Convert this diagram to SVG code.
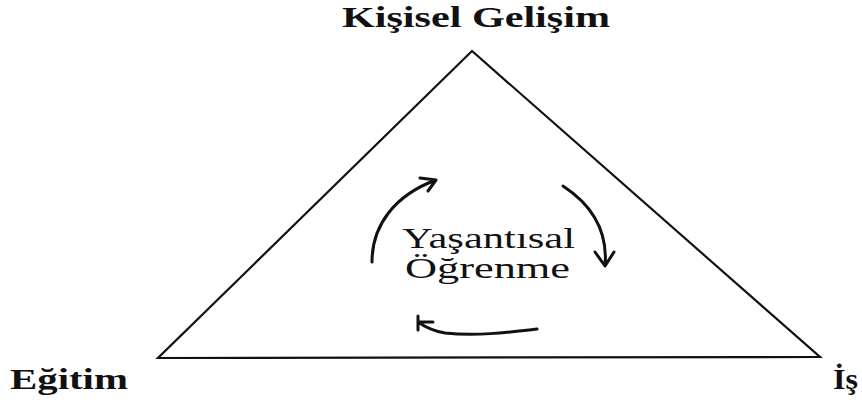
<svg xmlns="http://www.w3.org/2000/svg" width="862" height="403" viewBox="0 0 862 403">
<defs>
<style>
.lbl{font-family:"Liberation Serif","DejaVu Serif",serif;fill:#111;}
.edge{fill:none;stroke:#111;stroke-width:2.2;}
.arr{fill:none;stroke:#111;stroke-width:3;stroke-linecap:round;stroke-linejoin:round;}
</style>
</defs>
<rect width="862" height="403" fill="#fff"/>
<g id="connectors">
<polygon class="edge" points="472,51 158,358 820,357"/>
<path class="arr" d="M372,262 C372,225 395,195 436,180 M420,178 L436,180 L428,191"/>
<path class="arr" d="M563,186 C592,205 608,232 605,266 M595,252 L605,266 L614,252"/>
<path class="arr" d="M537,329 C505,333 475,336 445,333 C433,331 425,327 418,322 M418,316 L418,330 M418,322 L433,322"/>
</g>
<g id="kisisel"><text class="lbl" x="342" y="27" font-size="30" font-weight="bold" textLength="268" lengthAdjust="spacingAndGlyphs">Kişisel Gelişim</text></g>
<g id="egitim"><text class="lbl" x="10" y="389" font-size="30" font-weight="bold" textLength="118" lengthAdjust="spacingAndGlyphs">Eğitim</text></g>
<g id="is"><text class="lbl" x="833" y="389" font-size="30" font-weight="bold" textLength="25" lengthAdjust="spacingAndGlyphs">İş</text></g>
<g id="yasantisal"><text class="lbl" x="402" y="248" font-size="30" textLength="173" lengthAdjust="spacingAndGlyphs">Yaşantısal</text><text class="lbl" x="405" y="278" font-size="30" textLength="165" lengthAdjust="spacingAndGlyphs">Öğrenme</text></g>
</svg>
